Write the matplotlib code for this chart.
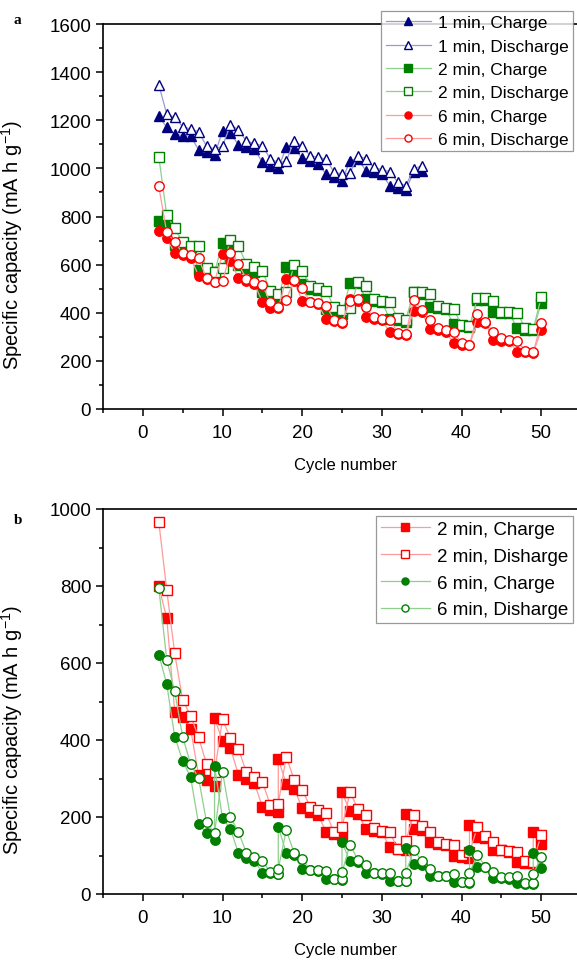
import matplotlib
matplotlib.use("Agg")
import matplotlib.pyplot as plt
from matplotlib.ticker import MultipleLocator

plt.rcParams['font.family'] = ['Liberation Sans', 'DejaVu Sans']

# ---- panel a ----
cyc_1min = list(range(2, 36))
a_1min_charge = [1216, 1171, 1143, 1136, 1133, 1078, 1067, 1056, 1154, 1147, 1097, 1088, 1081,
                 1025, 1011, 1000, 1088, 1084, 1042, 1032, 1018, 977, 963, 949, 1032, 1039,
                 990, 984, 977, 928, 918, 911, 984, 990]
a_1min_dis = [1347, 1226, 1212, 1173, 1164, 1152, 1092, 1081, 1092, 1182, 1160, 1113, 1104,
              1094, 1039, 1025, 1029, 1115, 1092, 1053, 1046, 1039, 984, 977, 980, 1053,
              1040, 1004, 995, 986, 942, 928, 997, 1011]

cyc_a = list(range(2, 51))
a_2min_charge = [782, 760, 682, 676, 672, 579, 572, 568, 690, 672, 598, 585, 568, 488, 470, 457,
                 589, 575, 519, 499, 495, 416, 402, 395, 524, 524, 457, 450, 443, 375, 368, 363,
                 485, 480, 423, 418, 414, 353, 345, 340, 455, 455, 404, 400, 397, 335, 330, 327, 440]
a_2min_dis = [1049, 806, 751, 693, 679, 676, 585, 571, 585, 704, 676, 603, 589, 575, 492, 478,
              485, 598, 575, 513, 502, 492, 423, 413, 420, 526, 513, 457, 450, 443, 377, 371,
              485, 488, 478, 427, 418, 416, 349, 344, 461, 461, 450, 404, 402, 399, 337, 332, 464]
a_6min_charge = [741, 709, 648, 642, 628, 554, 540, 528, 644, 616, 543, 532, 520, 446, 418, 420,
                 540, 530, 450, 443, 435, 374, 365, 358, 457, 450, 381, 374, 368, 319, 312, 308,
                 409, 405, 332, 328, 322, 274, 268, 265, 363, 358, 288, 284, 281, 238, 235, 233, 328]
a_6min_dis = [925, 734, 695, 647, 640, 626, 543, 526, 531, 647, 603, 540, 526, 515, 443, 425,
              454, 537, 502, 446, 440, 429, 371, 360, 450, 457, 423, 381, 374, 371, 316, 312,
              455, 411, 371, 335, 330, 321, 274, 267, 395, 363, 319, 295, 288, 281, 242, 236, 356]

# ---- panel b ----
cyc_b_charge = [2, 3, 4, 5, 6, 7, 8, 9, 9, 10, 11, 12, 13, 14, 15, 16, 17, 17, 18, 19, 20, 21,
                22, 23, 24, 25, 25, 26, 27, 28, 29, 30, 31, 32, 33, 33, 34, 35, 36, 37, 38, 39,
                40, 41, 41, 42, 43, 44, 45, 46, 47, 48, 49, 49, 50]
b_2min_charge = [799, 717, 474, 461, 428, 309, 295, 281, 457, 397, 378, 310, 299, 288, 227, 219,
                 212, 351, 286, 273, 223, 214, 205, 162, 156, 153, 264, 215, 208, 169, 164, 160,
                 121, 117, 113, 208, 169, 165, 134, 130, 127, 100, 95, 93, 179, 147, 145, 115,
                 113, 108, 84, 81, 80, 160, 130]
cyc_b_dis2 = list(range(2, 51))
b_2min_dis = [967, 790, 625, 504, 463, 407, 337, 316, 454, 404, 377, 316, 304, 292, 231, 234,
              357, 296, 271, 227, 219, 210, 160, 173, 264, 221, 206, 171, 164, 160, 117, 137,
              206, 176, 160, 134, 130, 127, 102, 108, 175, 151, 134, 115, 111, 108, 86, 84, 154]
b_6min_charge = [622, 545, 409, 346, 303, 182, 158, 139, 332, 197, 169, 106, 93, 87, 55, 55,
                 52, 175, 106, 101, 65, 63, 60, 39, 38, 37, 134, 85, 82, 55, 54, 53, 35, 35,
                 34, 119, 78, 76, 48, 47, 46, 30, 30, 29, 113, 71, 69, 42, 41, 40, 28, 27, 27,
                 106, 68]
cyc_b_dis6 = [2, 3, 4, 5, 6, 7, 8, 9, 10, 11, 12, 13, 14, 15, 16, 17, 17, 18, 19, 20, 21, 22,
              23, 24, 25, 25, 26, 27, 28, 29, 30, 31, 32, 33, 33, 34, 35, 36, 37, 38, 39, 40,
              41, 41, 42, 43, 44, 45, 46, 47, 48, 49, 49, 50]
b_6min_dis = [796, 609, 526, 408, 338, 301, 186, 158, 317, 199, 162, 106, 95, 87, 56, 52, 65,
              166, 106, 91, 63, 63, 61, 39, 39, 56, 128, 88, 75, 55, 55, 55, 35, 35, 55, 113,
              87, 65, 48, 48, 52, 30, 32, 55, 102, 71, 58, 43, 43, 47, 28, 28, 52, 95]

NAVY, NAVY_L = '#00007f', '#9a9ad0'
GREEN, GREEN_L = '#007f00', '#8fcf8f'
RED, RED_L = '#ff0000', '#ff9a9a'


def series(ax, x, y, col, lcol, mk, filled, label):
    ax.plot(x, y, '-', color=lcol, lw=0.9, marker=mk, ms=6.8,
            mfc=col if filled else 'white', mec=col, mew=1.0, label=label)


def style_axes(ax, ymax, ystep):
    # right limit pushed past the picture edge, as in the original crop
    ax.set_xlim(-5, 56)
    ax.set_ylim(0, ymax)
    ax.xaxis.set_major_locator(MultipleLocator(10))
    ax.xaxis.set_minor_locator(MultipleLocator(5))
    ax.yaxis.set_major_locator(MultipleLocator(ystep))
    ax.yaxis.set_minor_locator(MultipleLocator(ystep / 2))
    ax.tick_params(which='both', direction='out', top=False, right=False,
                   labelsize=13.5, width=1.1)
    ax.tick_params(which='major', length=5)
    ax.tick_params(which='minor', length=3)
    ax.tick_params(axis='x', pad=6)
    for s in ax.spines.values():
        s.set_linewidth(1.2)
    ax.set_xlabel('Cycle number', fontsize=12)
    ax.set_ylabel('Specific capacity (mA h g$^{\\mathregular{-1}}$)', fontsize=14.5)
    ax.xaxis.set_label_coords(0.5, -0.125)
    ax.yaxis.set_label_coords(-0.16, 0.43)


fig = plt.figure(figsize=(5.77, 9.62), dpi=100)
W, H = 577.0, 962.0
ax1 = fig.add_axes([103 / W, 1 - 410 / H, 486 / W, 385 / H])
ax2 = fig.add_axes([103 / W, 1 - 895 / H, 486 / W, 385 / H])

series(ax1, cyc_1min, a_1min_charge, NAVY, NAVY_L, '^', True, '1 min, Charge')
series(ax1, cyc_1min, a_1min_dis, NAVY, NAVY_L, '^', False, '1 min, Discharge')
series(ax1, cyc_a, a_2min_charge, GREEN, GREEN_L, 's', True, '2 min, Charge')
series(ax1, cyc_a, a_2min_dis, GREEN, GREEN_L, 's', False, '2 min, Discharge')
series(ax1, cyc_a, a_6min_charge, RED, RED_L, 'o', True, '6 min, Charge')
series(ax1, cyc_a, a_6min_dis, RED, RED_L, 'o', False, '6 min, Discharge')
style_axes(ax1, 1600, 200)

series(ax2, cyc_b_charge, b_2min_charge, RED, RED_L, 's', True, '2 min, Charge')
series(ax2, cyc_b_dis2, b_2min_dis, RED, RED_L, 's', False, '2 min, Disharge')
series(ax2, cyc_b_charge, b_6min_charge, GREEN, GREEN_L, 'o', True, '6 min, Charge')
series(ax2, cyc_b_dis6, b_6min_dis, GREEN, GREEN_L, 'o', False, '6 min, Disharge')
style_axes(ax2, 1000, 200)

for ax, top, fs, sp in ((ax1, 12, 12.5, 0.47), (ax2, 517, 13.5, 0.52)):
    leg = ax.legend(loc='upper right', bbox_to_anchor=(573 / W, 1 - top / H),
                    bbox_transform=fig.transFigure, fontsize=fs, frameon=True,
                    fancybox=False, edgecolor='#808080', borderaxespad=0,
                    handlelength=2.6, handletextpad=0.4, borderpad=0.25,
                    labelspacing=sp, markerscale=0.75)
    leg.get_frame().set_linewidth(0.9)

fig.text(14 / W, 1 - 20 / H, 'a', family='Liberation Serif', weight='bold',
         fontsize=11, va='center')
fig.text(14 / W, 1 - 520 / H, 'b', family='Liberation Serif', weight='bold',
         fontsize=11, va='center')

fig.savefig('out.png', dpi=100)
